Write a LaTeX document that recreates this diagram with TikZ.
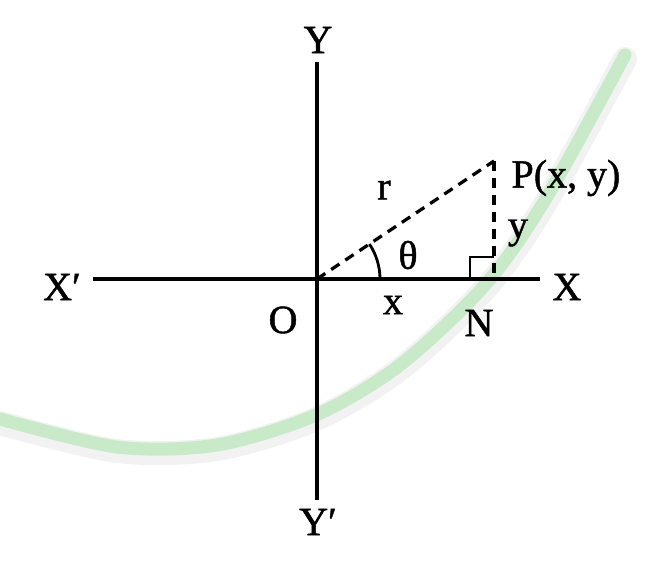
\documentclass[tikz,border=0pt]{standalone}
\usepackage{fontspec}
\setmainfont{Liberation Serif}
\newfontfamily\lblfont[FakeBold=1.2]{Liberation Serif}
\usetikzlibrary{positioning}

\begin{document}
\begin{tikzpicture}[
  x=1pt, y=1pt,
  axis/.style={line width=3.8pt},
  guide/.style={line width=3.2pt, dash pattern=on 10pt off 7pt},
  lbl/.style={font=\lblfont\fontsize{40}{44}\selectfont, inner sep=0pt},
  wshade/.style={line width=24pt, gray, opacity=0.10, line cap=round},
  wmark/.style={line width=13pt, green!60!gray, opacity=0.22, line cap=round}
]
\useasboundingbox (-317,-283) rectangle (342,279);

% faint scan mark
\draw[wshade] plot[smooth] coordinates {(-317,-144) (-200,-172) (-100,-170) (-1,-140) (83,-90) (168,-10) (228,75) (308,220)};
\draw[wmark] plot[smooth] coordinates {(-317,-140) (-200,-168) (-100,-166) (-1,-136) (83,-86) (168,-6) (228,79) (308,224)};

\coordinate (O) at (0,0);
\coordinate (ytop) at (0,217);
\coordinate (ybot) at (0,-221);
\coordinate (xleft) at (-224,0);
\coordinate (xright) at (223,0);
\coordinate (P) at (177,118);
\coordinate (N) at (177,0);

\draw[axis] (ytop) -- (ybot);
\draw[axis] (xleft) -- (xright);

\draw[guide] (O) -- (P);
\draw[guide] (P) -- (N);

% right angle at N
\draw[line width=2.8pt] (153,0) -- (153,22) -- (177,22);
% angle theta
\draw[line width=2.8pt] (63,0) arc[start angle=0, end angle=33.7, radius=63];

\node[lbl] (lY)  at (1,239)    {Y};
\node[lbl] (lYp) at (1,-243)   {Y′};
\node[lbl] (lXp) at (-255,-8)  {X′};
\node[lbl] (lX)  at (250,-8)   {X};
\node[lbl] (lO)  at (-34,-41)  {O};
\node[lbl] (lx)  at (76,-26)   {x};
\node[lbl] (lN)  at (162,-44)  {N};
\node[lbl] (lr)  at (67,89)    {r};
\node[lbl] (lt)  at (91,24)    {θ};
\node[lbl] (ly)  at (201,46)   {y};
\node[lbl] (lP)  at (249,101)  {P(x, y)};

\end{tikzpicture}
\end{document}
